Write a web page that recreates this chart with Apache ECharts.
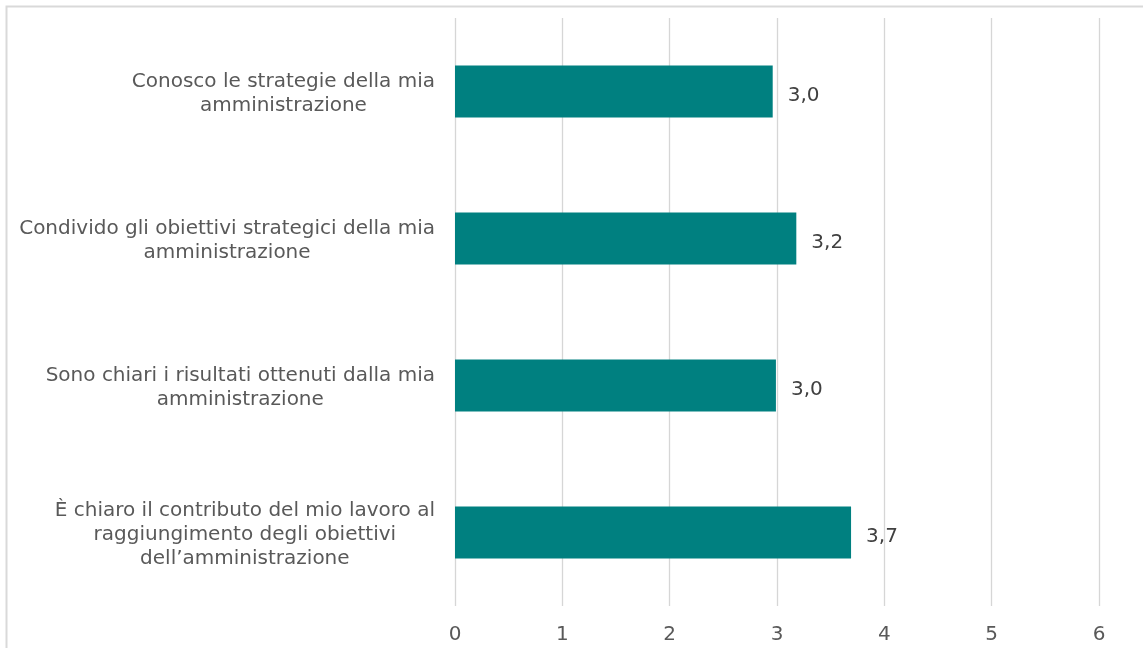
<!DOCTYPE html>
<html>
<head>
<meta charset="utf-8">
<script src="https://cdn.jsdelivr.net/npm/echarts@6/dist/echarts.min.js"></script>
<style>
html,body{margin:0;padding:0;background:#fff;}
#chart{width:1143px;height:648px;}
</style>
</head>
<body>
<div id="chart"></div>
<script>
const categories = [
  "Conosco le strategie della mia\namministrazione",
  "Condivido gli obiettivi strategici della mia\namministrazione",
  "Sono chiari i risultati ottenuti dalla mia\namministrazione",
  "È chiaro il contributo del mio lavoro al\nraggiungimento degli obiettivi\ndell’amministrazione"
];
const values = [2.96, 3.18, 2.99, 3.69];
const xTicks = [0, 1, 2, 3, 4, 5, 6];

const FONT = '"DejaVu Sans", Verdana, sans-serif';
const chart = echarts.init(document.getElementById('chart'), null, {renderer: 'canvas'});
chart.setOption({
  animation: false,
  backgroundColor: '#ffffff',
  graphic: [{
    type: 'rect', left: 4, top: 4, z: -1,
    shape: {width: 1160, height: 700},
    style: {fill: 'none', stroke: '#d9d9d9', lineWidth: 2}
  }],
  grid: {left: 455, right: 44, top: 18, bottom: 42, containLabel: false},
  xAxis: {
    type: 'value',
    min: xTicks[0],
    max: xTicks[xTicks.length - 1],
    interval: 1,
    axisLine: {show: false},
    axisTick: {show: false},
    splitLine: {show: true, lineStyle: {color: '#d6d6d6', width: 1.3}},
    axisLabel: {
      color: '#595959', fontSize: 20, fontFamily: FONT, margin: 19,
      formatter: v => String(v)
    }
  },
  yAxis: {
    type: 'category',
    inverse: true,
    data: categories,
    axisLine: {show: false},
    axisTick: {show: false},
    axisLabel: {
      margin: 20,
      align: 'right',
      padding: [4, 0, 0, 0],
      formatter: v => v.split('\n').map(l => '{c|' + l + '}').join('\n'),
      rich: {
        c: {align: 'center', color: '#595959', fontSize: 20, fontFamily: FONT, lineHeight: 24}
      }
    }
  },
  series: [{
    type: 'bar',
    data: values,
    barWidth: 52,
    itemStyle: {color: '#008080'},
    label: {
      show: true,
      position: 'right',
      distance: 15,
      offset: [0, 4],
      color: '#404040',
      fontSize: 20,
      fontFamily: FONT,
      formatter: p => p.value.toFixed(1).replace('.', ',')
    }
  }]
});
</script>
</body>
</html>
